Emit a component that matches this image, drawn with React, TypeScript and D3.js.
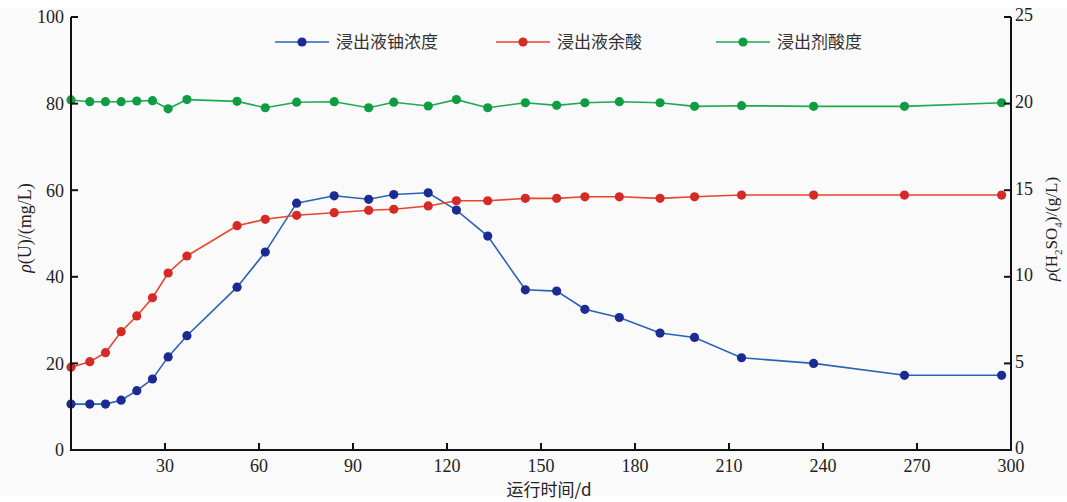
import React from "react";
import * as d3 from "d3";

const days = [0, 6, 11, 16, 21, 26, 31, 37, 53, 62, 72, 84, 95, 103, 114, 123, 133, 145, 155, 164, 175, 188, 199, 214, 237, 266, 297];
const uranium = [10.6, 10.6, 10.6, 11.5, 13.7, 16.4, 21.5, 26.4, 37.6, 45.7, 57.0, 58.7, 57.9, 59.0, 59.4, 55.4, 49.4, 37.0, 36.7, 32.5, 30.6, 27.0, 26.0, 21.3, 20.0, 17.25, 17.25];
const residualAcid = [4.78, 5.1, 5.62, 6.83, 7.74, 8.79, 10.22, 11.2, 12.95, 13.32, 13.55, 13.7, 13.84, 13.9, 14.09, 14.39, 14.39, 14.53, 14.53, 14.62, 14.62, 14.53, 14.62, 14.72, 14.72, 14.72, 14.72];
const leachAcid = [20.21, 20.11, 20.11, 20.11, 20.15, 20.17, 19.7, 20.23, 20.13, 19.76, 20.08, 20.11, 19.76, 20.08, 19.86, 20.23, 19.76, 20.05, 19.9, 20.05, 20.11, 20.05, 19.84, 19.88, 19.84, 19.84, 20.05];

const xTicks = [30, 60, 90, 120, 150, 180, 210, 240, 270, 300];
const yLeftTicks = [0, 20, 40, 60, 80, 100];
const yRightTicks = [0, 5, 10, 15, 20, 25];
const legendNames = ["浸出液铀浓度", "浸出液余酸", "浸出剂酸度"];

const W = 1067, H = 502;
const L = 71, R = 1011, T = 17, B = 450;

export default function App() {
  const x = d3.scaleLinear().domain([0, 300]).range([L, R]);
  const yL = d3.scaleLinear().domain([0, 100]).range([B, T]);
  const yR = d3.scaleLinear().domain([0, 25]).range([B, T]);

  const series = [
    { name: legendNames[0], vals: uranium, y: yL, line: "#2a62b8", mark: "#1c2b92" },
    { name: legendNames[1], vals: residualAcid, y: yR, line: "#e8452c", mark: "#d52a26" },
    { name: legendNames[2], vals: leachAcid, y: yR, line: "#1daa50", mark: "#0f9c42" },
  ];

  const numFont = "'Liberation Serif', 'DejaVu Serif', serif";
  const cjkFont = "'Noto Sans CJK SC', sans-serif";
  const legendX = [275, 496, 716];

  return (
    <svg width={W} height={H} style={{ position: "fixed", left: 0, top: 0 }}>
      <rect x={0} y={0} width={W} height={H} fill="#ffffff" />
      <rect x={0} y={8} width={W} height={488} fill="#fafafa" />
      {series.map((s, si) => {
        const line = d3
          .line<number>()
          .x((_, i) => x(days[i]))
          .y((v) => s.y(v));
        return (
          <g key={si}>
            <path d={line(s.vals) || ""} fill="none" stroke={s.line} strokeWidth={1.6} />
            {s.vals.map((v, i) => (
              <circle key={i} cx={x(days[i])} cy={s.y(v)} r={4.6} fill={s.mark} />
            ))}
          </g>
        );
      })}
      {/* axes */}
      <g stroke="#111" strokeWidth={2} fill="none">
        <line x1={L} y1={T} x2={L} y2={B + 1} />
        <line x1={R} y1={T} x2={R} y2={B + 1} />
        <line x1={L - 1} y1={B} x2={R + 1} y2={B} />
        {yLeftTicks.map((t) => (
          <line key={"l" + t} x1={L} x2={L + 7} y1={yL(t)} y2={yL(t)} />
        ))}
        {yRightTicks.map((t) => (
          <line key={"r" + t} x1={R - 7} x2={R} y1={yR(t)} y2={yR(t)} />
        ))}
        {xTicks.map((t) => (
          <line key={"x" + t} x1={x(t)} x2={x(t)} y1={B} y2={B - 7} />
        ))}
      </g>
      <g fontFamily={numFont} fontSize={18} fill="#222">
        {yLeftTicks.map((t) => (
          <text key={"lt" + t} x={64} y={yL(t)} dy="0.35em" textAnchor="end">
            {t}
          </text>
        ))}
        {yRightTicks.map((t) => (
          <text key={"rt" + t} x={1015} y={yR(t) - 2} dy="0.35em" textAnchor="start">
            {t}
          </text>
        ))}
        {xTicks.map((t) => (
          <text key={"xt" + t} x={x(t)} y={472} textAnchor="middle">
            {t}
          </text>
        ))}
        <text transform="translate(31,228) rotate(-90)" textAnchor="middle">
          <tspan fontStyle="italic">ρ</tspan>
          <tspan>(U)/(mg/L)</tspan>
        </text>
        <text transform="translate(1057,229) rotate(-90)" textAnchor="middle" fontSize={17}>
          <tspan fontStyle="italic">ρ</tspan>
          <tspan>(H</tspan>
          <tspan fontSize={11} dy={5}>2</tspan>
          <tspan dy={-5}>SO</tspan>
          <tspan fontSize={11} dy={5}>4</tspan>
          <tspan dy={-5}>)/(g/L)</tspan>
        </text>
        <text x={549} y={496} textAnchor="middle" fontFamily={cjkFont} fontSize={17}>
          运行时间/d
        </text>
      </g>
      {/* legend */}
      {series.map((s, i) => (
        <g key={"lg" + i}>
          <line x1={legendX[i]} x2={legendX[i] + 54} y1={42} y2={42} stroke={s.line} strokeWidth={1.6} />
          <circle cx={legendX[i] + 27} cy={42} r={4.6} fill={s.mark} />
          <text x={legendX[i] + 61} y={42} dy="0.35em" fontFamily={cjkFont} fontSize={17} fill="#333">
            {s.name}
          </text>
        </g>
      ))}
    </svg>
  );
}
